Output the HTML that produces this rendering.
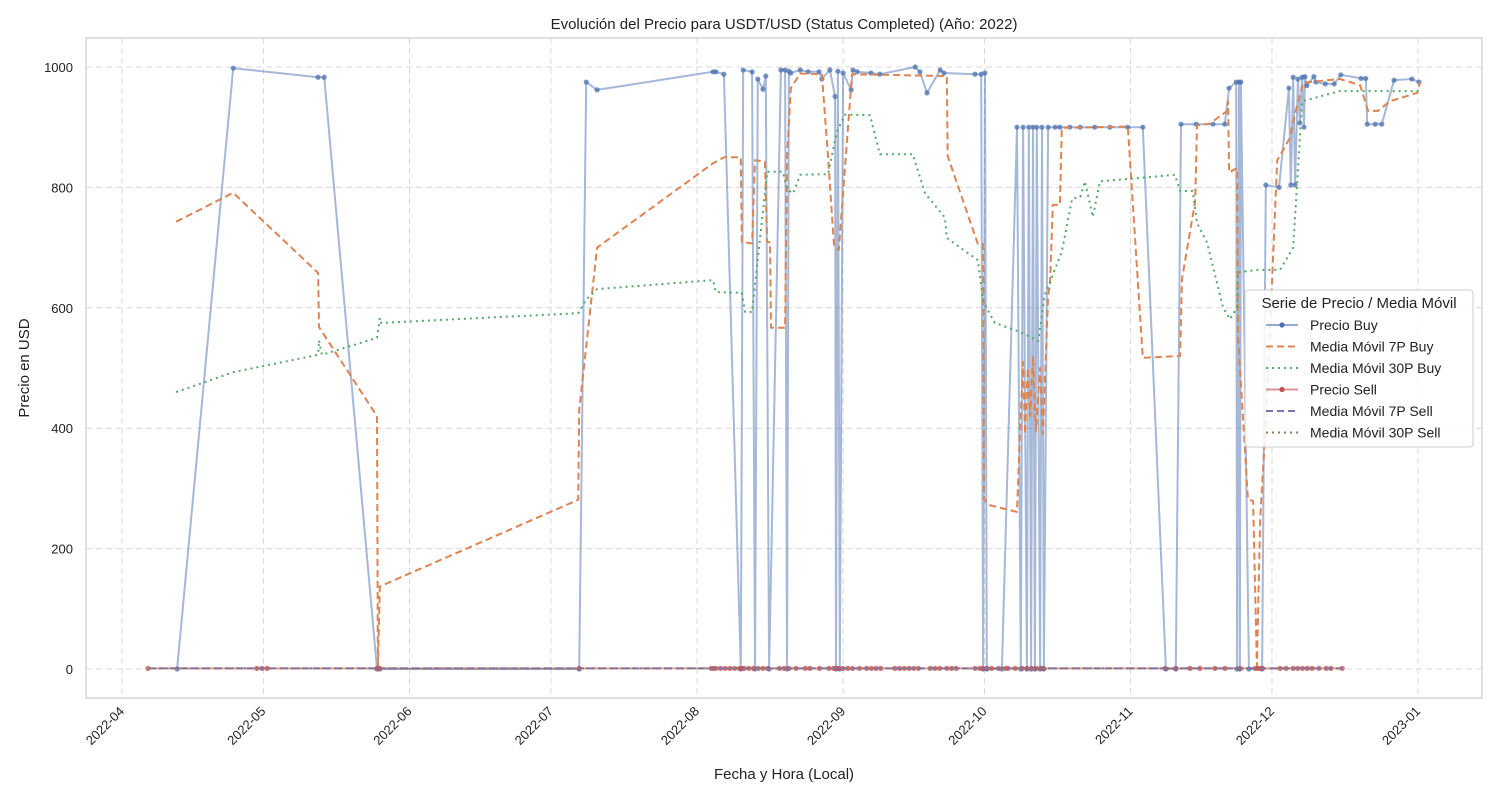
<!DOCTYPE html>
<html><head><meta charset="utf-8">
<style>
body{margin:0;background:#fff;font-family:"Liberation Sans",sans-serif;}
svg{display:block}
</style></head>
<body>
<svg id="chart" width="1500" height="800" viewBox="0 0 1500 800" xmlns="http://www.w3.org/2000/svg" font-family="Liberation Sans, sans-serif">
<rect width="1500" height="800" fill="#fff"/>
<g id="grid"></g>
<rect x="86" y="38" width="1396" height="660" fill="none" stroke="#ccc" stroke-width="1.2"/>
<g id="series"></g>
<g id="axes"></g>
<text x="784" y="29" font-size="15" text-anchor="middle" fill="#222">Evolución del Precio para USDT/USD (Status Completed) (Año: 2022)</text>
<text x="784" y="779" font-size="15" text-anchor="middle" fill="#222">Fecha y Hora (Local)</text>
<text transform="translate(29,368) rotate(-90)" font-size="15" text-anchor="middle" fill="#222">Precio en USD</text>
<g id="legend"></g>
</svg>
<script>
// x data are days since 2022-04-01
const monthTickDays=[0,30,61,91,122,153,183,214,244,275];
const monthTickLabels=["2022-04","2022-05","2022-06","2022-07","2022-08","2022-09","2022-10","2022-11","2022-12","2023-01"];
const yTickValues=[0,200,400,600,800,1000];
const buyDays=[11.7,23.6,41.6,42.9,54.1,54.7,97.0,98.5,100.8,125.4,126.0,127.7,131.3,131.8,133.7,134.3,134.9,136.0,136.6,137.3,139.8,140.7,141.1,141.5,141.9,143.9,145.6,147.9,148.5,150.2,151.3,151.5,151.9,152.3,153.0,154.7,155.1,156.0,158.9,160.8,168.3,169.3,170.8,173.6,174.4,181.0,182.3,182.7,183.1,183.5,186.7,189.9,190.7,191.2,192.0,192.4,192.9,193.3,193.7,194.1,194.8,195.2,195.6,196.5,198.0,199.0,201.1,203.3,206.4,209.6,213.4,216.6,221.5,223.6,224.7,227.9,231.5,234.0,234.9,236.4,236.6,237.0,237.2,237.4,239.1,241.9,242.7,245.5,247.6,248.0,248.5,248.9,249.5,249.9,250.4,250.8,251.0,251.4,252.9,253.3,255.3,257.2,258.6,262.9,263.9,264.2,265.9,267.3,269.9,273.7,275.2];
const buyValues=[0,998,983,983,0,0,0,975,962,992,992,988,0,995,992,0,980,963,985,0,995,995,0,993,990,995,992,992,980,995,951,0,993,0,990,962,995,992,990,988,1000,992,957,995,990,988,988,0,990,0,0,900,0,900,0,900,0,900,0,900,0,900,0,900,900,900,900,900,900,900,900,900,0,0,905,905,905,905,965,975,0,975,0,975,0,0,804,800,965,804,983,804,980,907,983,900,984,969,984,975,972,972,987,981,981,905,905,905,978,980,975];
const ma7BuyDays=[11.5,23.6,41.6,41.8,54.1,54.3,54.7,96.8,97.0,100.8,125.4,127.7,131.3,131.5,133.7,134.3,136.4,136.9,137.5,137.7,140.7,141.1,141.9,143.9,148.5,149.8,151.1,152.1,154.9,175.0,175.2,181.6,182.7,182.9,184.2,189.9,190.5,191.2,191.6,192.2,192.7,193.3,193.9,194.8,195.4,196.5,196.9,197.5,199.0,199.4,213.4,216.6,224.5,224.9,227.7,228.1,230.8,234.5,234.7,234.9,236.6,236.8,238.9,240.0,240.8,241.5,242.9,245.1,247.8,248.9,250.6,258.4,262.7,264.4,266.5,269.0,274.8,275.4];
const ma7BuyValues=[743,791,658,568,420,0,137,281,430,700,840,850,850,709,707,845,843,709,709,567,567,849,965,989,988,852,702,696,988,985,852,706,706,282,272,261,387,510,390,500,420,520,395,500,390,620,640,771,771,899,901,517,520,648,777,903,906,927,943,825,832,553,282,279,5,249,439,845,882,923,974,980,970,927,927,943,957,974];
const ma30BuyDays=[11.5,23.6,41.6,41.8,42.4,54.1,54.7,55.0,96.8,98.5,100.8,125.4,126.0,131.5,132.2,133.7,136.9,140.2,141.1,142.4,143.9,149.8,151.7,153.4,158.7,160.8,167.8,170.4,174.6,175.0,181.6,182.7,185.2,190.5,194.4,195.8,199.4,201.6,203.3,204.3,206.0,207.5,223.4,224.5,227.2,228.1,230.2,233.6,235.1,236.6,236.8,240.8,245.7,248.5,250.4,258.4,275.4];
const ma30BuyValues=[460,493,522,546,522,550,583,575,591,614,631,646,626,625,593,593,826,826,797,790,821,822,893,921,920,855,855,790,750,716,679,611,575,560,545,621,693,781,784,810,751,810,821,794,794,741,709,601,581,601,659,663,663,700,943,960,960];
const sellDays=[5.5,28.6,29.7,30.8,54.1,54.7,97,125,125.5,126,127,128,129,130,131,131.5,132,133,134,135,136,137,139.5,140.5,141.5,143,145,146,148,150,151,151.5,152,153,154,155,156.5,158,159,160,161,164,165,166,167,168,169,171.5,172.5,173.5,175,176,177,181,182,182.7,183.5,184.5,186,187.5,188,189.5,191,192,193,194,195,195.5,221.3,223.6,226.6,228.7,231.9,234,237.2,240.4,241,241.5,242,245.7,247,248.5,249.5,250.5,251.5,252.5,254,255.5,256.5,258.9];
const sellValues=sellDays.map(()=>1);
const ma7SellValues=sellDays.map(()=>1);
const ma30SellValues=sellDays.map(()=>1);

const X0=122, PXD=4.713, Y0=669, PXV=0.602;
const xs=d=>X0+d*PXD;
const ys=v=>Y0-v*PXV;
const NS="http://www.w3.org/2000/svg";
function mk(tag,attrs,parent){const e=document.createElementNS(NS,tag);for(const k in attrs)e.setAttribute(k,attrs[k]);parent.appendChild(e);return e;}
const grid=document.getElementById('grid'),axes=document.getElementById('axes'),ser=document.getElementById('series'),leg=document.getElementById('legend');

monthTickDays.forEach((d,i)=>{
  const x=xs(d);
  const l=mk('line',{x1:x,x2:x,y1:38,y2:698,stroke:'#d9d9d9','stroke-dasharray':'6,4','stroke-width':1},grid);
  
  
  const t=mk('text',{x:x+3,y:712,'font-size':13,fill:'#222','text-anchor':'end',transform:`rotate(-45 ${x+3} 712)`},axes);
  t.textContent=monthTickLabels[i];
  
  
});
yTickValues.forEach(v=>{
  const y=ys(v);
  const l=mk('line',{x1:86,x2:1482,y1:y,y2:y,stroke:'#d9d9d9','stroke-dasharray':'6,4','stroke-width':1},grid);
  
  
  const t=mk('text',{x:73,y:y+5,'font-size':13,fill:'#222','text-anchor':'end'},axes);
  t.textContent=String(v);
  
  
});
function pts(days,vals){return days.map((d,i)=>xs(d).toFixed(1)+','+ys(vals[i]).toFixed(1)).join(' ');}
function line(days,vals,color,dash,op,w,name){
  const p=mk('polyline',{points:pts(days,vals),fill:'none',stroke:color,'stroke-width':w,'stroke-opacity':op,'stroke-dasharray':dash,'stroke-linejoin':'round'},ser);
  
  
}
function dots(days,vals,color,name){
  days.forEach((d,i)=>{
    const c=mk('circle',{cx:xs(d),cy:ys(vals[i]),r:2.6,fill:color,'fill-opacity':0.75},ser);
    
    
  });
}
line(buyDays,buyValues,'#4c72b0','none',0.5,2,'precio-buy-line');
dots(buyDays,buyValues,'#4c72b0','precio-buy-point');
line(ma7BuyDays,ma7BuyValues,'#dd8452','7,4',1,2,'ma7-buy-line');
line(ma30BuyDays,ma30BuyValues,'#55a868','2,4',1,2,'ma30-buy-line');
line(sellDays,sellValues,'#c44e52','none',0.5,2,'precio-sell-line');
dots(sellDays,sellValues,'#c44e52','precio-sell-point');
line(sellDays,ma7SellValues,'#8172b3','7,4',1,2,'ma7-sell-line');
line(sellDays,ma30SellValues,'#937860','2,4',1,2,'ma30-sell-line');

// legend
const lb=mk('rect',{x:1245,y:290,width:228,height:157,rx:3,fill:'#fff','fill-opacity':0.85,stroke:'#ccc'},leg);


const lt=mk('text',{x:1359,y:308,'font-size':15,'text-anchor':'middle',fill:'#222'},leg);
lt.textContent='Serie de Precio / Media Móvil';


const legendLabels=['Precio Buy','Media Móvil 7P Buy','Media Móvil 30P Buy','Precio Sell','Media Móvil 7P Sell','Media Móvil 30P Sell'];
const legendColors=['#4c72b0','#dd8452','#55a868','#c44e52','#8172b3','#937860'];
const legendDash=['none','7,4','2,4','none','7,4','2,4'];
legendLabels.forEach((lab,i)=>{
  const y=325+i*21.5;
  const g=mk('g',{},leg);
  
  
  mk('line',{x1:1266,x2:1298,y1:y,y2:y,stroke:legendColors[i],'stroke-width':2,'stroke-dasharray':legendDash[i],'stroke-opacity':(i===0||i===3)?0.6:1},g);
  if(i===0||i===3)mk('circle',{cx:1282,cy:y,r:2.6,fill:legendColors[i]},g);
  const t=mk('text',{x:1310,y:y+5,'font-size':14,fill:'#222'},g);
  t.textContent=lab;
});
</script>
</body></html>
